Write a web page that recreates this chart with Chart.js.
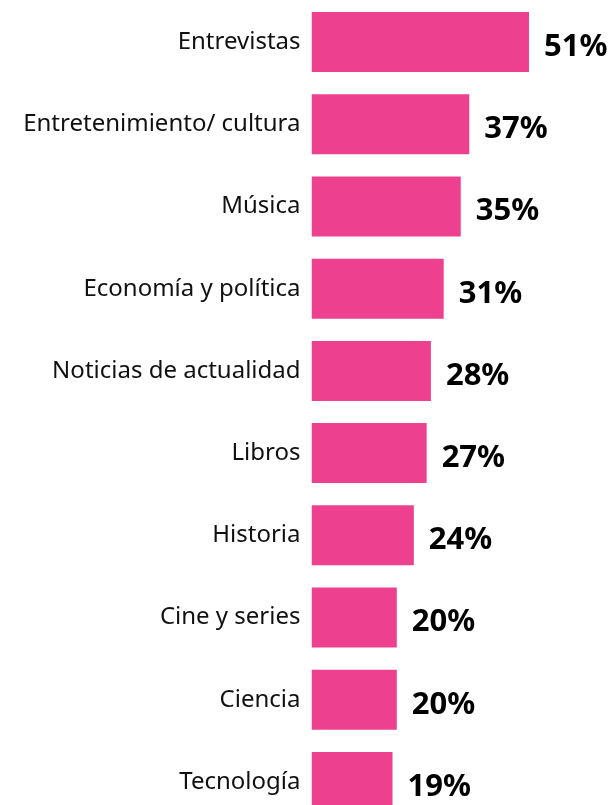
<!DOCTYPE html>
<html>
<head>
<meta charset="utf-8">
<script src="https://cdn.jsdelivr.net/npm/chart.js@4"></script>
<style>
  html, body { margin: 0; padding: 0; background: #fff; overflow: hidden; }
  #wrap { width: 612px; height: 823px; position: relative; }
</style>
</head>
<body>
<div id="wrap"><canvas id="chart"></canvas></div>
<script>
const CATEGORIES = [
    "Entrevistas",
    "Entretenimiento/ cultura",
    "Música",
    "Economía y política",
    "Noticias de actualidad",
    "Libros",
    "Historia",
    "Cine y series",
    "Ciencia",
    "Tecnología"
];
const VALUES = [51, 37, 35, 31, 28, 27, 24, 20, 20, 19];
const VALUE_LABELS = ["51%", "37%", "35%", "31%", "28%", "27%", "24%", "20%", "20%", "19%"];

const PINK = "#ED4190";
const FONT = "'Noto Sans', sans-serif";

// draws the bold percentage next to each bar
const valueLabels = {
    id: "valueLabels",
    afterDatasetsDraw(chart) {
        const ctx = chart.ctx;
        const meta = chart.getDatasetMeta(0);
        ctx.save();
        ctx.font = "bold 31px " + FONT;
        ctx.fillStyle = "#000";
        ctx.textAlign = "left";
        ctx.textBaseline = "middle";
        meta.data.forEach((bar, i) => {
            ctx.fillText(VALUE_LABELS[i], bar.x + 15, bar.y + 5);
        });
        ctx.restore();
    }
};

const ctx = document.getElementById("chart");
new Chart(ctx, {
    type: "bar",
    data: {
        labels: CATEGORIES,
        datasets: [{
            data: VALUES,
            backgroundColor: PINK,
            barPercentage: 0.73,
            categoryPercentage: 1
        }]
    },
    options: {
        indexAxis: "y",
        responsive: true,
        maintainAspectRatio: false,
        animation: false,
        layout: { padding: { top: 1, right: 2, bottom: 0, left: 0 } },
        plugins: {
            legend: { display: false },
            tooltip: { enabled: false }
        },
        scales: {
            x: {
                min: 0,
                max: 70,
                display: false
            },
            y: {
                grid: { display: false, drawTicks: false },
                border: { display: false },
                ticks: {
                    color: "#111",
                    padding: 11,
                    font: { family: FONT, size: 24 }
                },
                afterFit(scale) {
                    scale.width = 311.5;
                    scale.paddingTop = 0;
                    scale.paddingBottom = 0;
                }
            }
        }
    },
    plugins: [valueLabels]
});
</script>
</body>
</html>
